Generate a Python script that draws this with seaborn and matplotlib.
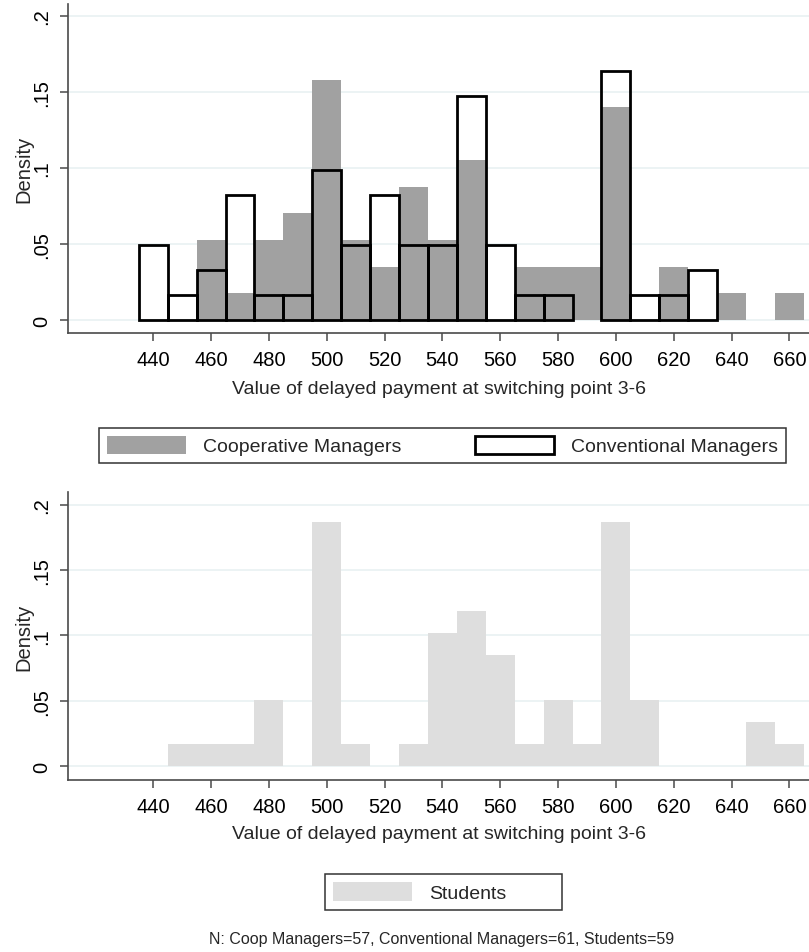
import numpy as np
import matplotlib
matplotlib.use('Agg')
import matplotlib.pyplot as plt
from matplotlib.patches import Patch
import seaborn as sns

sns.set_style('ticks')
plt.rcParams['font.family'] = ['Liberation Sans', 'DejaVu Sans']

# bin centres (width 10) and counts
bin_centers = [440, 450, 460, 470, 480, 490, 500, 510, 520, 530, 540, 550,
               560, 570, 580, 590, 600, 610, 620, 630, 640, 650, 660]
coop_counts = [0, 0, 3, 1, 3, 4, 9, 3, 2, 5, 3, 6,
               0, 2, 2, 2, 8, 0, 2, 0, 1, 0, 1]
conv_counts = [3, 1, 2, 5, 1, 1, 6, 3, 5, 3, 3, 9,
               3, 1, 1, 0, 10, 1, 1, 2, 0, 0, 0]
stud_counts = [0, 1, 1, 1, 3, 0, 11, 1, 0, 1, 6, 7,
               5, 1, 3, 1, 11, 3, 0, 0, 0, 2, 1]

x_ticks = [440, 460, 480, 500, 520, 540, 560, 580, 600, 620, 640, 660]
y_ticks = [0, 0.05, 0.1, 0.15, 0.2]
y_ticklabels = ['0', '.05', '.1', '.15', '.2']

xlabel = 'Value of delayed payment at switching point 3-6'
note = 'N: Coop Managers=57, Conventional Managers=61, Students=59'

coop_gray = '#a1a1a1'
stud_gray = '#dedede'
axis_col = '#4a4a4a'
grid_col = '#eaf2f3'
fs = 14

edges = [c - 5 for c in bin_centers] + [bin_centers[-1] + 5]

W, H = 809, 953
fig = plt.figure(figsize=(W / 100, H / 100), dpi=100)
ax1 = fig.add_axes([68 / W, 1 - 334 / H, 741 / W, 329 / H])
ax2 = fig.add_axes([68 / W, 1 - 781 / H, 741 / W, 288 / H])

# top panel: cooperative (filled) and conventional (outline)
sns.histplot(x=bin_centers, weights=coop_counts, bins=edges, stat='probability',
             color=coop_gray, alpha=1, edgecolor=coop_gray, linewidth=0, ax=ax1)
n_before = len(ax1.patches)
sns.histplot(x=bin_centers, weights=conv_counts, bins=edges, stat='probability',
             fill=False, color='black', linewidth=2.0, ax=ax1)
for p in ax1.patches[n_before:]:
    p.set_zorder(3)
    if p.get_height() == 0:
        p.set_visible(False)

# bottom panel: students
sns.histplot(x=bin_centers, weights=stud_counts, bins=edges, stat='probability',
             color=stud_gray, alpha=1, edgecolor=stud_gray, linewidth=0, ax=ax2)

for ax, ylim, xl_y in [(ax1, (-0.00855, 0.2079), -0.143), (ax2, (-0.0105, 0.2097), -0.156)]:
    ax.set_xlim(410.5, 666.8)
    ax.set_ylim(*ylim)
    ax.set_xticks(x_ticks)
    ax.set_xticklabels([str(t) for t in x_ticks])
    ax.set_yticks(y_ticks)
    ax.set_yticklabels(y_ticklabels, rotation=90, va='center')
    ax.grid(axis='y', color=grid_col, lw=1.3)
    ax.set_axisbelow(True)
    for s in ['top', 'right']:
        ax.spines[s].set_visible(False)
    for s in ['left', 'bottom']:
        ax.spines[s].set_color(axis_col)
        ax.spines[s].set_linewidth(1.2)
    ax.tick_params(direction='out', length=6, width=1.1, color=axis_col,
                   labelsize=14.5, pad=6, labelcolor='black')
    ax.set_xlabel(xlabel, fontsize=fs)
    ax.set_ylabel('Density', fontsize=14.5)
    ax.xaxis.set_label_coords(0.5, xl_y)
    ax.yaxis.set_label_coords(-0.047, 0.5)

leg_kw = dict(fontsize=fs, frameon=True, fancybox=False, edgecolor='#333333',
              framealpha=1, handlelength=4.06, handleheight=1.08,
              handletextpad=0.87, borderpad=0.41, borderaxespad=0, mode='expand')

top_handles = [Patch(facecolor=coop_gray, edgecolor=coop_gray, linewidth=0),
               Patch(facecolor='white', edgecolor='black', linewidth=2.0)]
leg1 = fig.legend(top_handles, ['Cooperative Managers', 'Conventional Managers'],
                  loc='center', ncol=2,
                  bbox_to_anchor=(99 / W, 1 - 465 / H, 687 / W, 37 / H), **leg_kw)
leg1.get_frame().set_linewidth(1.1)

leg2 = fig.legend([Patch(facecolor=stud_gray, edgecolor=stud_gray, linewidth=0)],
                  ['Students'], loc='center', ncol=1,
                  bbox_to_anchor=(325 / W, 1 - 912 / H, 237 / W, 38 / H), **leg_kw)
leg2.get_frame().set_linewidth(1.1)

fig.text(442 / W, 1 - 940 / H, note, ha='center', va='center', fontsize=11.5)

fig.savefig('out.png', dpi=100)
